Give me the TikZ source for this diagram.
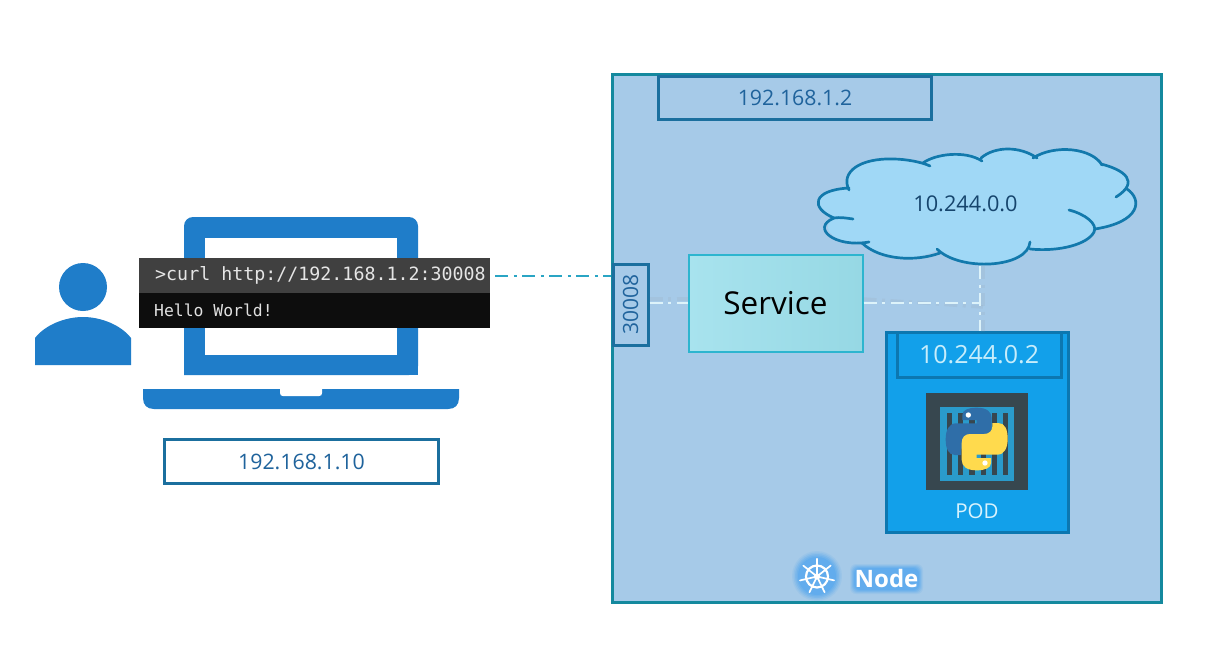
\documentclass[tikz,border=0pt]{standalone}
\usepackage{fontspec}
\setmainfont{Open Sans}
\setmonofont{DejaVu Sans Mono}
\definecolor{nodebg}{HTML}{A6CAE8}
\definecolor{nodeedge}{HTML}{14899E}
\definecolor{ipedge}{HTML}{1B6F9E}
\definecolor{iptext}{HTML}{1F639C}
\definecolor{lapblue}{HTML}{1F7DC9}
\definecolor{podfill}{HTML}{12A0EA}
\definecolor{podedge}{HTML}{0C77B0}
\definecolor{clfill}{HTML}{A0D8F6}
\definecolor{cledge}{HTML}{1279AC}
\definecolor{glow}{HTML}{4FA5F0}
\definecolor{ctdark}{HTML}{37474F}
\definecolor{ctblue}{HTML}{2A9BCB}
\definecolor{svcleft}{HTML}{A8E3EE}
\definecolor{svcright}{HTML}{96D8E4}
\definecolor{svcedge}{HTML}{2DB5CF}
\definecolor{linkteal}{HTML}{2AA5C4}
\definecolor{linklight}{HTML}{DDF3FA}
\definecolor{pyblue}{HTML}{2F6EA8}
\definecolor{pybluetop}{HTML}{3F83C0}
\definecolor{pyyellow}{HTML}{FFDA4D}
\definecolor{pyyellowb}{HTML}{FFC933}
\tikzset{
 x=1pt,y=-1pt,
 ipbox/.style={draw=ipedge,line width=3pt,fill=#1,inner sep=0pt,text=iptext,font=\fontsize{21.3}{24}\selectfont},
 ipbox/.default=white,
 termrow/.style={inner sep=0pt,anchor=north west,minimum width=351pt},
 link/.style={line width=1.7pt,dash pattern=on 13pt off 5.5pt on 3pt off 5.5pt},
 linkshadow/.style={line width=3.5pt,dash pattern=on 13pt off 5.5pt on 3pt off 5.5pt,draw=black!45,opacity=.10},
 cloudline/.style={cledge,line width=2.7pt,line cap=round},
}
\begin{document}
\begin{tikzpicture}
\useasboundingbox (0,0) rectangle (1210,662);
\fill[white] (0,0) rectangle (1210,662);

% Person
\fill[lapblue] (83,287) circle[radius=24];
\fill[lapblue] (35,365) -- (35,338) .. controls (45,325) and (65,317) .. (83,317) .. controls (101,317) and (121,325) .. (131,338) -- (131,365) -- cycle;

% Laptop
\fill[lapblue,rounded corners=9pt] (184,375) -- (184,217) -- (418,217) -- (418,375) [sharp corners] -- cycle;
\fill[lapblue] (184,360) rectangle (418,375);
\fill[white] (205,238) rectangle (397,355);
\fill[lapblue] (143,389) -- (459,389) -- (459,398) .. controls (459,405) and (455,409) .. (448,409) -- (154,409) .. controls (147,409) and (143,405) .. (143,398) -- cycle;
\fill[white] (280,389) -- (322,389) -- (322,393) .. controls (322,395) and (321,396) .. (319,396) -- (283,396) .. controls (281,396) and (280,395) .. (280,393) -- cycle;

% Terminal
\node[termrow,fill=black!95,minimum height=35pt] (termbottom) at (139,293) {};
\node[termrow,fill=white!25!black,minimum height=35pt] (termtop) at (139,258) {};
\node[anchor=west,inner sep=0pt,text=white!90!black,font=\ttfamily\fontsize{18.3}{20}\selectfont] (curl) at (155,275.5) {>curl http://192.168.1.2:30008};
\node[anchor=west,inner sep=0pt,text=white!88!black,font=\ttfamily\fontsize{16.4}{20}\selectfont] (hello) at (154,310.5) {Hello World!};

% Client IP
\node[ipbox,minimum width=274pt,minimum height=44pt] (clientip) at (301.5,461.5) {192.168.1.10};

% Kubernetes node
\node[draw=nodeedge,line width=3pt,fill=nodebg,minimum width=549pt,minimum height=528pt,inner sep=0pt] (k8snode) at (887,338.5) {};
\node[ipbox=nodebg,minimum width=273pt,minimum height=43.5pt] (nodeip) at (795,98) {192.168.1.2};

% Cloud
\fill[clfill] (849,190) .. controls (840,172) and (860,158) .. (893,159) .. controls (905,159) and (918,161) .. (925,164)
 .. controls (935,154) and (965,150) .. (982,158) .. controls (995,146) and (1020,146) .. (1033,156)
 .. controls (1055,144) and (1092,148) .. (1102,165) .. controls (1120,168) and (1136,180) .. (1128,190)
 .. controls (1143,200) and (1140,222) .. (1095,229) .. controls (1092,240) and (1060,252) .. (1030,248)
 .. controls (1020,268) and (960,272) .. (937,250) .. controls (915,262) and (880,260) .. (862,243)
 .. controls (835,244) and (818,228) .. (834,218) .. controls (810,212) and (812,190) .. (849,188) -- cycle;
\draw[cloudline]
 (849,190) .. controls (840,172) and (860,158) .. (893,159) .. controls (905,159) and (922,162) .. (930,166);
\draw[cloudline]
 (923,163) .. controls (935,154) and (965,150) .. (982,161);
\draw[cloudline]
 (981,158) .. controls (995,146) and (1020,146) .. (1037,158);
\draw[cloudline]
 (1033,158) .. controls (1055,144) and (1092,148) .. (1102,165);
\draw[cloudline]
 (1101,164) .. controls (1125,170) and (1140,182) .. (1116,197);
\draw[cloudline]
 (1127,189) .. controls (1143,200) and (1140,222) .. (1095,229);
\draw[cloudline]
 (1069,210) .. controls (1085,214) and (1098,224) .. (1094,232) .. controls (1088,244) and (1060,252) .. (1030,249);
\draw[cloudline]
 (1030,242) .. controls (1028,268) and (960,272) .. (937,249);
\draw[cloudline]
 (940,253) .. controls (915,262) and (880,260) .. (862,243);
\draw[cloudline]
 (869,242) .. controls (835,248) and (810,228) .. (834,218) .. controls (840,217) and (846,218) .. (853,219);
\draw[cloudline]
 (834,218) .. controls (810,208) and (812,190) .. (849,188);
\node[inner sep=0pt,text=iptext!70!black,font=\fontsize{21.7}{24}\selectfont] (cloudip) at (965.5,204) {10.244.0.0};
\coordinate (cloudbottom) at (980,266);

% Service and port
\node[draw=ipedge,line width=3pt,fill=nodebg,minimum width=35pt,minimum height=81pt,inner sep=0pt] (port) at (630.5,304.5) {};
\node[rotate=90,inner sep=0pt,text=iptext,font=\fontsize{21}{24}\selectfont] (portlabel) at (630.5,304.5) {30008};
\node[inner sep=0pt,minimum width=174pt,minimum height=97pt,draw=svcedge,line width=2pt,left color=svcleft,right color=svcright,text=black,font=\fontsize{31.5}{36}\selectfont] (service) at (775.5,303) {Service};

% POD
\node[draw=podedge,line width=3pt,fill=podfill,minimum width=182pt,minimum height=200pt,inner sep=0pt] (pod) at (977,432) {};
\node[draw=podedge,line width=3pt,fill=podfill,minimum width=164pt,minimum height=45pt,inner sep=0pt,text=white!78!cyan,font=\fontsize{25}{30}\selectfont] (podip) at (979,355) {10.244.0.2};
\node[inner sep=0pt,text=white!85!cyan,font=\fontsize{20.5}{24}\selectfont] (podlabel) at (977,511) {POD};

% Container
\fill[ctdark] (926,393) rectangle (1028,490);
\fill[ctblue] (940,407) rectangle (1014,481);
\foreach \bx in {946.5,957.5,969,980.5,991.5,1002.5}
  \fill[ctdark] (\bx,413) rectangle +(5.5,62);
\begin{scope}[shift={(880,320)},scale=1/3]
  \def\snake{(247,300) -- (247,285) .. controls (247,270) and (265,263) .. (290,263) .. controls (320,263) and (335,275) .. (335,295) -- (335,345) .. controls (335,362) and (325,372) .. (310,372) -- (268,372) .. controls (252,372) and (243,382) .. (243,395) -- (243,405) -- (225,405) .. controls (205,405) and (197,385) .. (197,358) .. controls (197,330) and (207,310) .. (228,310) -- (290,310) -- (290,300) -- cycle}
  \fill[pyblue] \snake;
  \fill[white] (265,285) circle[radius=8];
  \begin{scope}[rotate around={180:(290,357)}]
    \fill[pyyellow] \snake;
    \fill[white] (265,285) circle[radius=8];
  \end{scope}
\end{scope}

% Connectors
\draw[linkshadow] ([yshift=4pt]service.west -| port.east) -- ([yshift=4pt]service.west);
\draw[linkshadow] ([yshift=4pt]service.east) -- (983,307);
\draw[linkshadow] (983,266) -- (983,332);
\draw[link,draw=linkteal,shorten <=5pt] (termtop.east) -- (termtop.east -| k8snode.west);
\draw[link,draw=linklight] (service.west -| port.east) -- (service.west);
\coordinate (junction) at (cloudbottom |- service.east);
\draw[link,draw=linklight] (service.east) -- (junction);
\draw[link,draw=linklight] (cloudbottom) -- (cloudbottom |- podip.north);

% Node badge
\foreach \r/\o in {25/.12,23.5/.18,22/.25,20.5/.3,19/.4}
  \fill[glow,opacity=\o] (817,576) circle[radius=\r];
\foreach \g/\o in {4/.12,3/.18,2/.25,1/.3,0/.4}
  \fill[glow,opacity=\o,rounded corners=6pt] (854-\g,568-\g) rectangle (919+\g,590+\g);
\draw[white,line width=2.2pt] (817,576.5) circle[radius=11];
\fill[white] (817,576.5) circle[radius=3.2];
\foreach \a in {0,51.4,...,360}{
  \draw[white,line width=1.7pt,line cap=round] (817,576.5) -- ++(\a-90:17.5);
}
\node[inner sep=0pt,text=white,font=\bfseries\fontsize{24}{26}\selectfont] (nodelabel) at (886.5,578) {Node};
\end{tikzpicture}
\end{document}
